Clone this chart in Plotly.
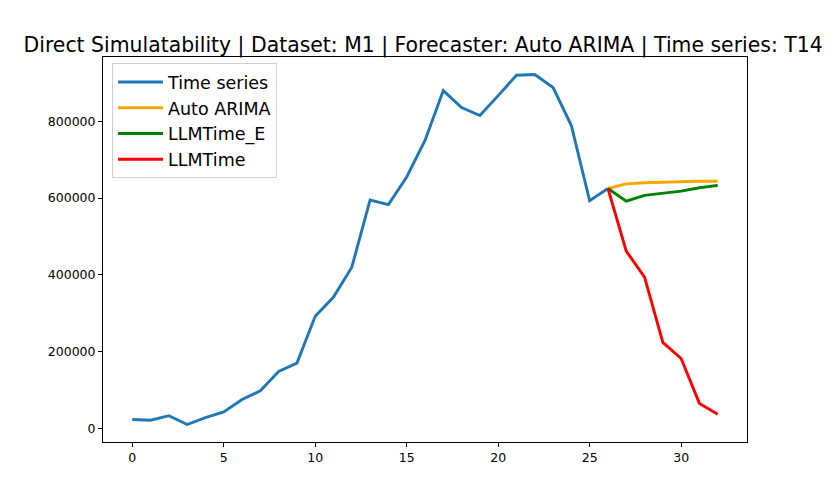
import plotly.graph_objects as go

# observed series (t = 0..26)
ts_x = list(range(27))
ts_y = [23000, 21000, 33000, 10000, 28000, 43000, 75000, 98000, 148000, 170000,
        292000, 342000, 420000, 595000, 583000, 655000, 750000, 880000, 836000,
        815000, 867000, 920000, 922000, 888000, 789000, 593000, 625000]

# forecasts (t = 26..32), starting from last observed point
fc_x = list(range(26, 33))
arima_y = [625000, 637000, 640000, 642000, 643000, 644000, 644000]
llmtime_e_y = [625000, 592000, 607000, 613000, 618000, 627000, 633000]
llmtime_y = [625000, 462000, 394000, 224000, 182000, 65000, 37000]

title = "Direct Simulatability | Dataset: M1 | Forecaster: Auto ARIMA | Time series: T14"

fig = go.Figure()
fig.add_trace(go.Scatter(x=ts_x, y=ts_y, mode="lines", name="Time series",
                         line=dict(color="#1f77b4", width=2.9)))
fig.add_trace(go.Scatter(x=fc_x, y=arima_y, mode="lines", name="Auto ARIMA",
                         line=dict(color="#FFA500", width=2.9)))
fig.add_trace(go.Scatter(x=fc_x, y=llmtime_e_y, mode="lines", name="LLMTime_E",
                         line=dict(color="#008000", width=2.9)))
fig.add_trace(go.Scatter(x=fc_x, y=llmtime_y, mode="lines", name="LLMTime",
                         line=dict(color="#FF0000", width=2.9)))

axis_style = dict(showline=True, mirror=True, linecolor="black", linewidth=1,
                  showgrid=False, zeroline=False, ticks="outside", ticklen=4,
                  tickcolor="black", tickfont=dict(size=12.5, color="black"))

# page body has an 8px margin, so the figure is 8px smaller than the window
fig.update_layout(
    width=822, height=490,
    margin=dict(l=95, r=83, t=49, b=56),
    paper_bgcolor="white", plot_bgcolor="white",
    font=dict(family="DejaVu Sans", color="black"),
    title=dict(text=title, x=0.505, xanchor="center", y=0.9245, yanchor="middle",
               font=dict(size=20.4, color="black")),
    legend=dict(x=0.014, y=0.984, xanchor="left", yanchor="top",
                bgcolor="rgba(255,255,255,0.8)", bordercolor="#d0d0d0", borderwidth=1,
                font=dict(size=17.5), tracegroupgap=0, itemwidth=45),
    showlegend=True,
)
fig.update_xaxes(range=[-1.6, 33.6], tickvals=[0, 5, 10, 15, 20, 25, 30], **axis_style)
fig.update_yaxes(range=[-35600, 967600], tickvals=[0, 200000, 400000, 600000, 800000],
                 tickformat="d", **axis_style)

fig.write_html("out.html")
